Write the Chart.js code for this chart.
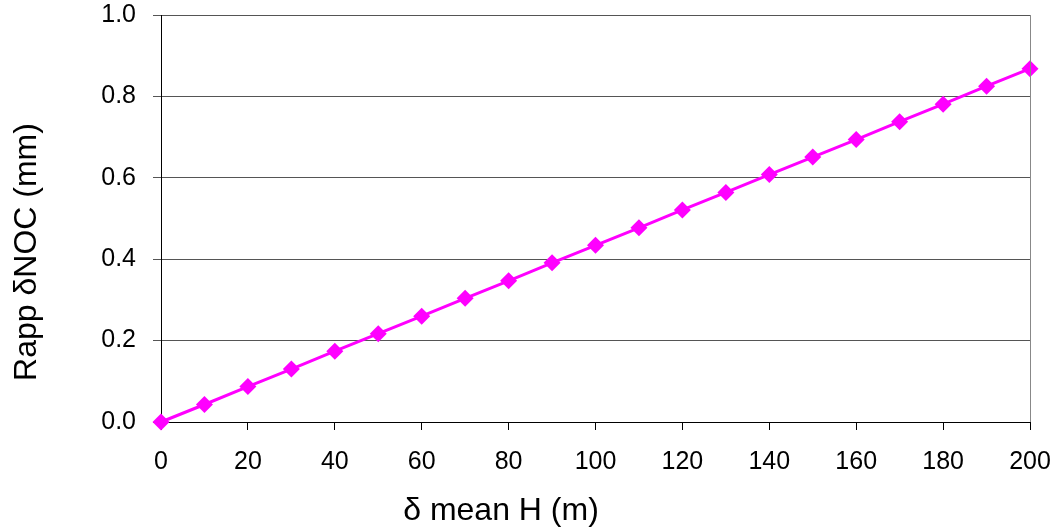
<!DOCTYPE html>
<html>
<head>
<meta charset="utf-8">
<script src="https://cdn.jsdelivr.net/npm/chart.js@4/dist/chart.umd.min.js"></script>
<style>
  html, body { margin: 0; padding: 0; background: #fff; }
  #wrap { width: 1059px; height: 529px; }
</style>
</head>
<body>
<div id="wrap"><canvas id="chart" width="1059" height="529"></canvas></div>
<script>
// valeurs
const deltaH = [0, 10, 20, 30, 40, 50, 60, 70, 80, 90, 100, 110, 120, 130, 140, 150, 160, 170, 180, 190, 200];
const rappNoc = [0, 0.043, 0.087, 0.130, 0.174, 0.217, 0.260, 0.304, 0.347, 0.391, 0.434,
                 0.477, 0.521, 0.564, 0.608, 0.651, 0.694, 0.738, 0.781, 0.825, 0.868];
const xTicks = [0, 20, 40, 60, 80, 100, 120, 140, 160, 180, 200];
const yTicks = [0.0, 0.2, 0.4, 0.6, 0.8, 1.0];
const xTitle = 'δ mean H (m)';
const yTitle = 'Rapp δNOC (mm)';

const fontFamily = 'Liberation Sans, Arial, sans-serif';
const tickFont = { family: fontFamily, size: 25 };

// bordure droite grise + titres des axes (décalés comme dans l'original)
const decor = {
    id: 'decor',
    afterDraw(chart) {
        const a = chart.chartArea;
        const ctx = chart.ctx;
        ctx.save();
        ctx.strokeStyle = '#888888';
        ctx.lineWidth = 1;
        ctx.beginPath();
        ctx.moveTo(a.right + 0.5, a.top);
        ctx.lineTo(a.right + 0.5, a.bottom);
        ctx.stroke();

        ctx.fillStyle = '#000';
        ctx.font = '32px ' + fontFamily;
        ctx.textAlign = 'center';
        ctx.textBaseline = 'alphabetic';
        ctx.fillText(xTitle, a.left + 340, a.bottom + 98);

        ctx.translate(a.left - 125, a.top + 237);
        ctx.rotate(-Math.PI / 2);
        ctx.fillText(yTitle, 0, 0);
        ctx.restore();
    }
};

new Chart(document.getElementById('chart'), {
    type: 'scatter',
    data: {
        datasets: [{
            data: deltaH.map((x, i) => ({ x: x, y: rappNoc[i] })),
            showLine: true,
            clip: false,
            borderColor: '#FF00FF',
            backgroundColor: '#FF00FF',
            borderWidth: 3,
            pointStyle: 'rectRot',
            pointRadius: 8.5,
            pointHoverRadius: 8.5,
            pointBorderWidth: 0
        }]
    },
    options: {
        responsive: false,
        animation: false,
        layout: { autoPadding: false, padding: { top: 15, right: 29, left: 0, bottom: 0 } },
        plugins: { legend: { display: false }, tooltip: { enabled: false } },
        scales: {
            x: {
                type: 'linear',
                min: 0, max: 200,
                afterBuildTicks: s => { s.ticks = xTicks.map(v => ({ value: v })); },
                afterFit: s => { s.height = 107; s.paddingLeft = 0; s.paddingRight = 0; },
                ticks: { color: '#000', font: tickFont, padding: 17, maxRotation: 0 },
                grid: { drawOnChartArea: false, color: '#000', tickLength: 8 },
                border: { color: '#000', width: 1 }
            },
            y: {
                min: 0, max: 1,
                afterBuildTicks: s => { s.ticks = yTicks.map(v => ({ value: v })); },
                afterFit: s => { s.width = 161; s.paddingTop = 0; s.paddingBottom = 0; },
                ticks: { color: '#000', font: tickFont, padding: 17, callback: v => v.toFixed(1) },
                grid: { color: '#555555', tickLength: 8 },
                border: { color: '#000', width: 1 }
            }
        }
    },
    plugins: [decor]
});
</script>
</body>
</html>
